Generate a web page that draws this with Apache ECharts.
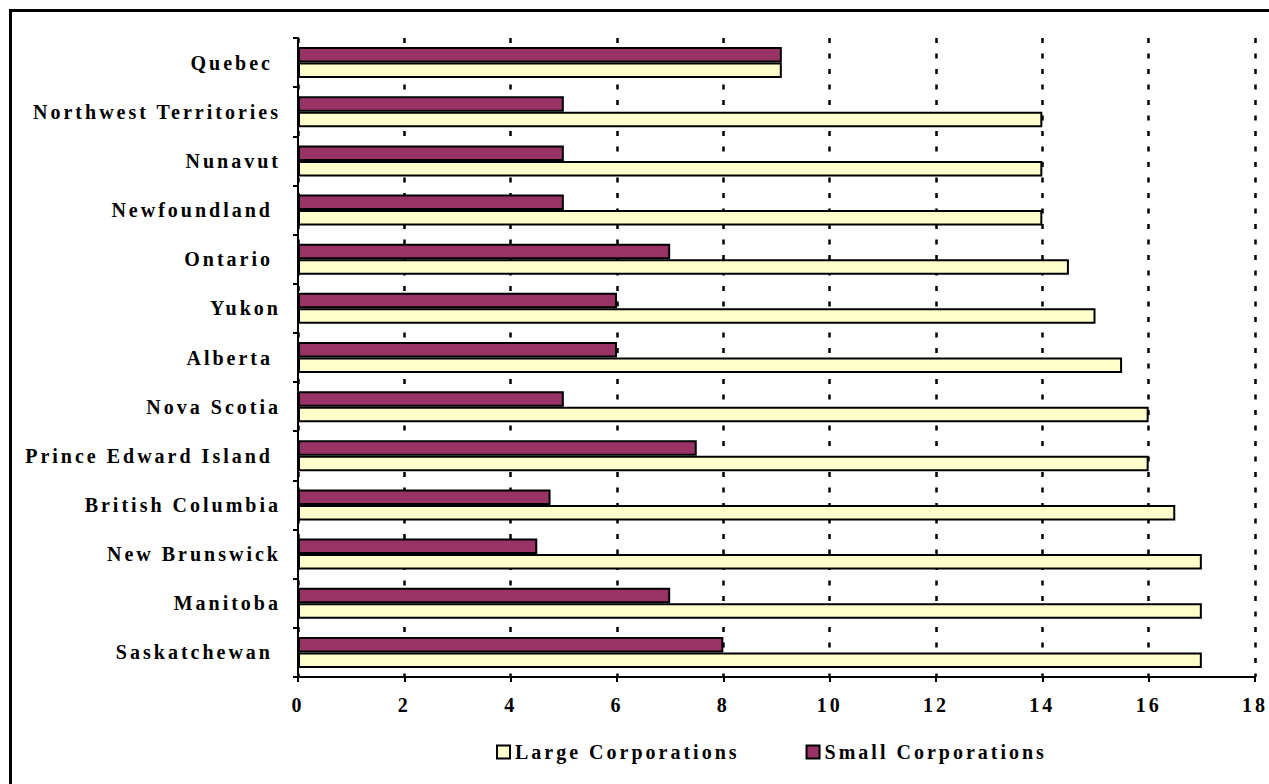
<!DOCTYPE html>
<html>
<head>
<meta charset="utf-8">
<script src="https://cdn.jsdelivr.net/npm/echarts@6/dist/echarts.min.js"></script>
<style>
html, body { margin: 0; padding: 0; background: #fff; }
#main { width: 1269px; height: 784px; }
#main text { letter-spacing: 3px; white-space: pre; }
</style>
</head>
<body>
<div id="main"></div>
<script>
// provinces, bottom to top
var provinces = ['Saskatchewan ', 'Manitoba', 'New Brunswick', 'British Columbia', 'Prince Edward Island ',
  'Nova Scotia', 'Alberta ', 'Yukon', 'Ontario ', 'Newfoundland ', 'Nunavut', 'Northwest Territories', 'Quebec ']
var largeCorp = [17, 17, 17, 16.5, 16, 16, 15.5, 15, 14.5, 14, 14, 14, 9.1]
var smallCorp = [8, 7, 4.5, 4.75, 7.5, 5, 6, 6, 7, 5, 5, 5, 9.1]
var xTicks = [0, 18, 2] // min, max, step

var font = "'Liberation Serif', 'Times New Roman', serif"
var chart = echarts.init(document.getElementById('main'), null, { renderer: 'svg' })

var option = {
  backgroundColor: '#fff',
  animation: false,
  textStyle: { fontFamily: font },
  graphic: [{
    type: 'rect',
    shape: { x: 10.5, y: 10.5, width: 1400, height: 1000 },
    style: { fill: 'none', stroke: '#000', lineWidth: 3 },
    silent: true
  }],
  grid: { left: 298, right: 14, top: 38, bottom: 107 },
  legend: {
    left: 491,
    top: 737,
    itemWidth: 13,
    itemHeight: 13,
    itemGap: 120,
    icon: 'rect',
    textStyle: { fontFamily: font, fontWeight: 'bold', fontSize: 20, color: '#000' },
    data: ['Large Corporations', 'Small Corporations']
  },
  xAxis: {
    type: 'value',
    min: xTicks[0],
    max: xTicks[1],
    interval: xTicks[2],
    axisLine: { show: true, lineStyle: { color: '#000', width: 2 } },
    axisTick: { show: true, length: 5, lineStyle: { color: '#000', width: 2 } },
    axisLabel: { margin: 18, fontFamily: font, fontWeight: 'bold', fontSize: 20, color: '#000' },
    splitLine: { show: true, lineStyle: { color: '#000', width: 2.5, type: [5, 10.5] } }
  },
  yAxis: {
    type: 'category',
    data: provinces,
    axisLine: { show: true, lineStyle: { color: '#000', width: 2 } },
    axisTick: { show: true, length: 5, lineStyle: { color: '#000', width: 2 } },
    axisLabel: { margin: 17, fontFamily: font, fontWeight: 'bold', fontSize: 20, color: '#000' },
    splitLine: { show: false }
  },
  // small corporations listed first so they sit above the large bar in each row
  series: [
    {
      name: 'Small Corporations',
      type: 'bar',
      data: smallCorp,
      barWidth: 15.5,
      barGap: 0,
      itemStyle: { color: '#993366', borderColor: '#000', borderWidth: 2 }
    },
    {
      name: 'Large Corporations',
      type: 'bar',
      data: largeCorp,
      barWidth: 15.5,
      barGap: 0,
      itemStyle: { color: '#FFFFCC', borderColor: '#000', borderWidth: 2 }
    }
  ]
}

chart.setOption(option)
</script>
</body>
</html>
